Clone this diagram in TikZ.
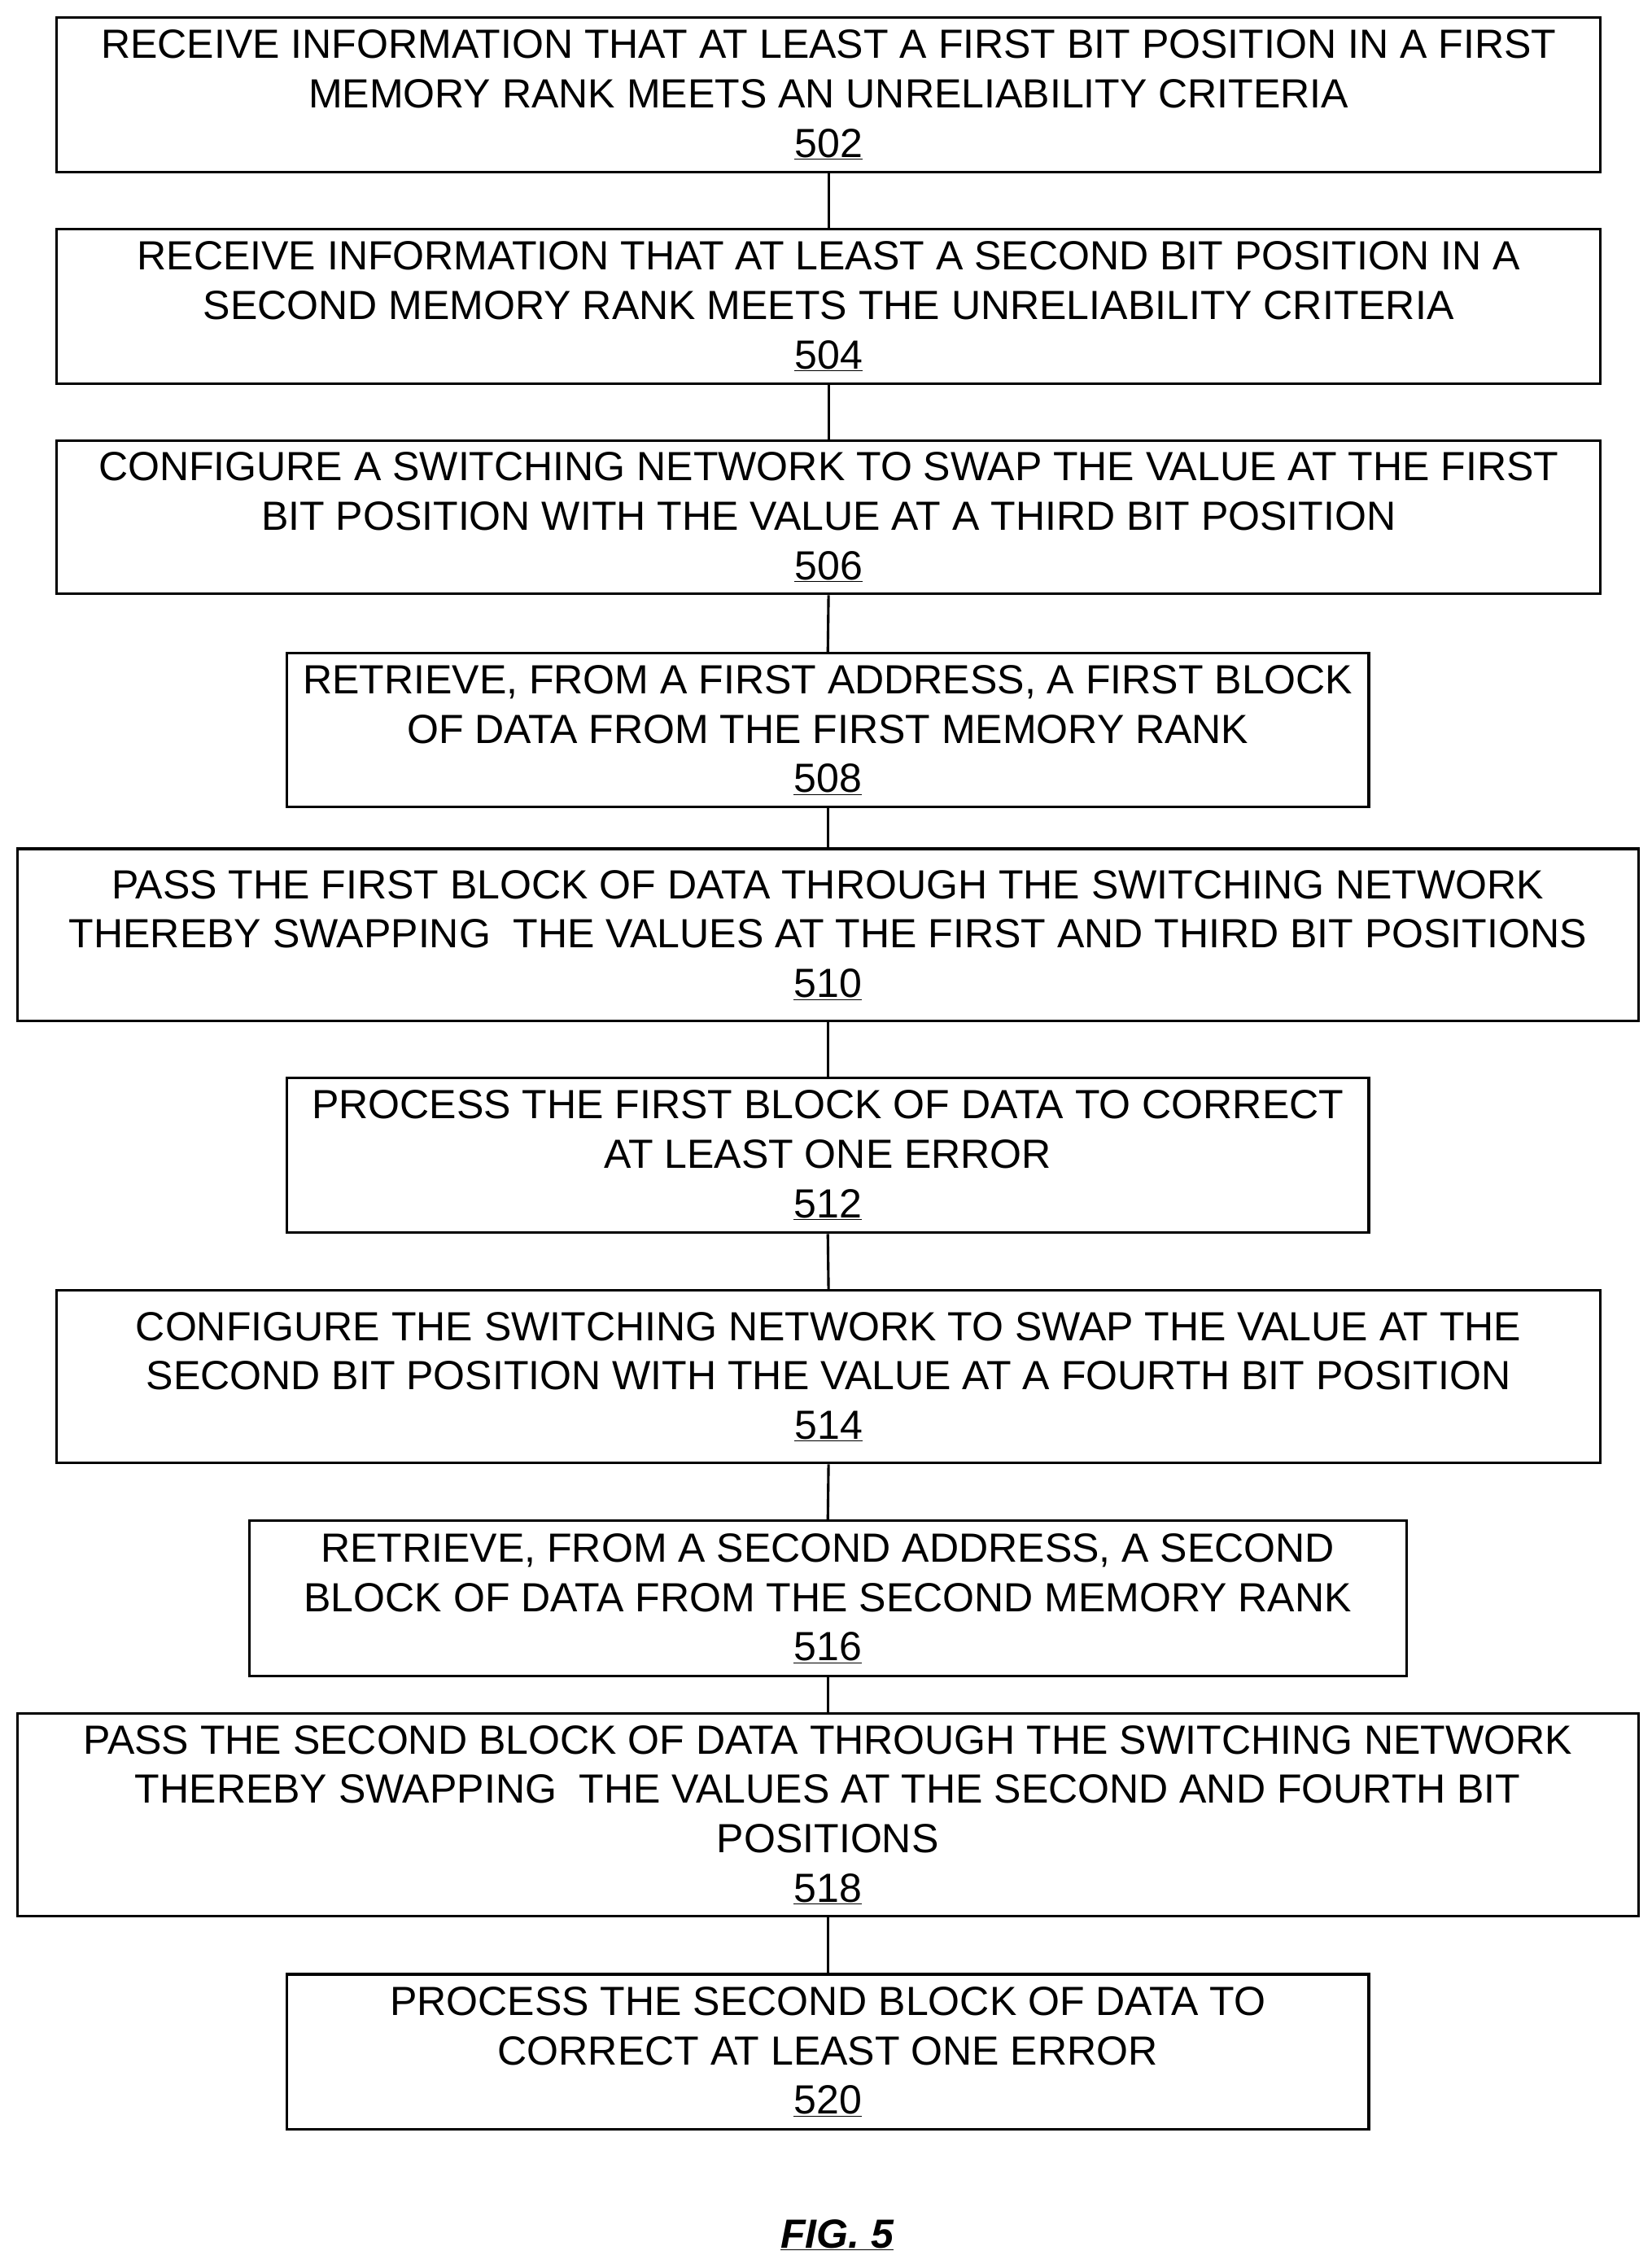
\documentclass[tikz,border=0pt]{standalone}
\usepackage{fontspec}
\setmainfont{Liberation Sans}
\usetikzlibrary{positioning}
\tikzset{
  flowbox/.style={draw,line width=2.5pt,align=center,inner sep=0pt,
    font=\fontsize{40}{48.5}\selectfont},
  link/.style={line width=2.5pt}
}
\begin{document}
\begin{tikzpicture}[x=0.05cm,y=-0.05cm]
  \useasboundingbox (0,0) rectangle (1140,1563);
  % steps of the flow, top to bottom
  \node[flowbox,minimum width=1066*0.05cm,minimum height=107*0.05cm] (s502) at (572,65.5)
    {RECEIVE INFORMATION THAT AT LEAST A FIRST BIT POSITION IN A FIRST\\MEMORY RANK MEETS AN UNRELIABILITY CRITERIA\\\underline{502}};
  \node[flowbox,minimum width=1066*0.05cm,minimum height=107*0.05cm] (s504) at (572,211.5)
    {RECEIVE INFORMATION THAT AT LEAST A SECOND BIT POSITION IN A\\SECOND MEMORY RANK MEETS THE UNRELIABILITY CRITERIA\\\underline{504}};
  \node[flowbox,minimum width=1066*0.05cm,minimum height=106*0.05cm] (s506) at (572,357)
    {CONFIGURE A SWITCHING NETWORK TO SWAP THE VALUE AT THE FIRST\\BIT POSITION WITH THE VALUE AT A THIRD BIT POSITION\\\underline{506}};
  \node[flowbox,minimum width=747*0.05cm,minimum height=106*0.05cm] (s508) at (571.5,504)
    {RETRIEVE, FROM A FIRST ADDRESS, A FIRST BLOCK\\OF DATA FROM THE FIRST MEMORY RANK\\\underline{508}};
  \node[flowbox,minimum width=1119*0.05cm,minimum height=119*0.05cm] (s510) at (571.5,645.5)
    {PASS THE FIRST BLOCK OF DATA THROUGH THE SWITCHING NETWORK\\THEREBY SWAPPING\ \ THE VALUES AT THE FIRST AND THIRD BIT POSITIONS\\\underline{510}};
  \node[flowbox,minimum width=747*0.05cm,minimum height=107*0.05cm] (s512) at (571.5,797.5)
    {PROCESS THE FIRST BLOCK OF DATA TO CORRECT\\AT LEAST ONE ERROR\\\underline{512}};
  \node[flowbox,minimum width=1066*0.05cm,minimum height=119*0.05cm] (s514) at (572,950.5)
    {CONFIGURE THE SWITCHING NETWORK TO SWAP THE VALUE AT THE\\SECOND BIT POSITION WITH THE VALUE AT A FOURTH BIT POSITION\\\underline{514}};
  \node[flowbox,minimum width=799*0.05cm,minimum height=107*0.05cm] (s516) at (571.5,1103.5)
    {RETRIEVE, FROM A SECOND ADDRESS, A SECOND\\BLOCK OF DATA FROM THE SECOND MEMORY RANK\\\underline{516}};
  \node[flowbox,minimum width=1119*0.05cm,minimum height=140*0.05cm] (s518) at (571.5,1253)
    {PASS THE SECOND BLOCK OF DATA THROUGH THE SWITCHING NETWORK\\THEREBY SWAPPING\ \ THE VALUES AT THE SECOND AND FOURTH BIT\\POSITIONS\\\underline{518}};
  \node[flowbox,minimum width=747*0.05cm,minimum height=107*0.05cm] (s520) at (571.5,1416.5)
    {PROCESS THE SECOND BLOCK OF DATA TO\\CORRECT AT LEAST ONE ERROR\\\underline{520}};
  \node[font=\fontsize{40}{48}\selectfont\bfseries\itshape] (fig) at (578,1543) {\underline{FIG. 5}};
  \foreach \a/\b in {502/504,504/506,506/508,508/510,510/512,512/514,514/516,516/518,518/520}
    \draw[link] (s\a.south) -- (s\b.north);
\end{tikzpicture}
\end{document}
